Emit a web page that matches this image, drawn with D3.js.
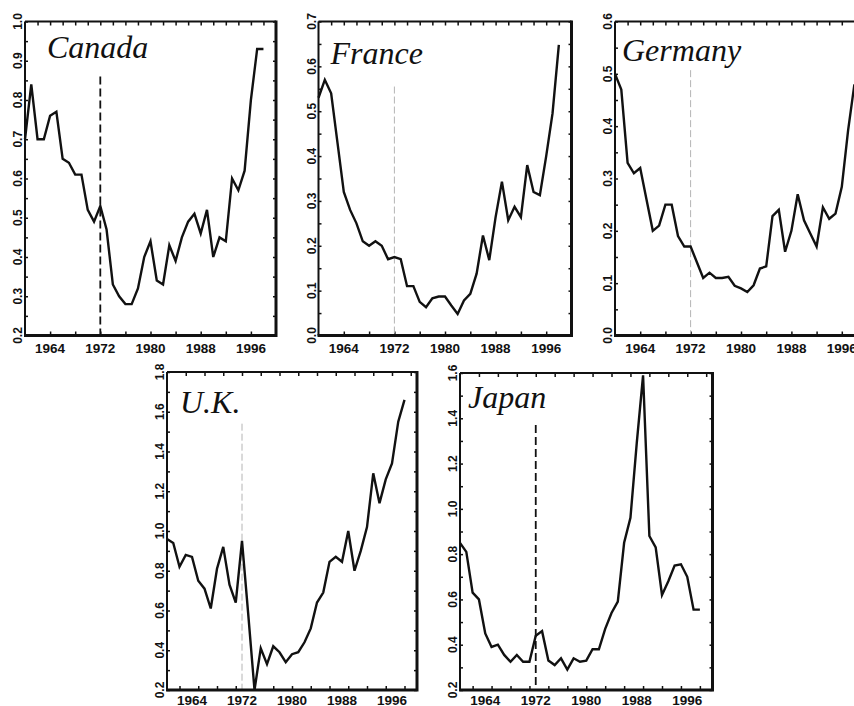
<!DOCTYPE html>
<html>
  <head>
    <meta charset="utf-8">
    <script src="https://d3js.org/d3.v7.min.js"></script>
    <title>Five countries</title>
    <style type="text/css">
body {
  margin: 0;
  background-color: #fff;
}
svg {
  display: block;
}
.title {
  font: italic 32px 'Liberation Serif', 'DejaVu Serif', serif;
  fill: #111;
}
.ylab, .xlab {
  font: bold 12px 'Liberation Sans', Arial, sans-serif;
  fill: #111;
}
.xlab {
  font-size: 13.5px;
}
.tick line {
  stroke: #111;
  stroke-width: 1.5px;
}
path.series {
  fill: none;
  stroke: #111;
  stroke-width: 2.4px;
  stroke-linejoin: miter;
}
    </style>
  </head>
  <body>
<svg></svg>

<script type="text/javascript">
// values, 1960..1998
const years = [1960, 1961, 1962, 1963, 1964, 1965, 1966, 1967, 1968, 1969,
  1970, 1971, 1972, 1973, 1974, 1975, 1976, 1977, 1978, 1979,
  1980, 1981, 1982, 1983, 1984, 1985, 1986, 1987, 1988, 1989,
  1990, 1991, 1992, 1993, 1994, 1995, 1996, 1997, 1998];

const canada = [0.70, 0.84, 0.70, 0.70, 0.76, 0.77, 0.65, 0.64, 0.61, 0.61,
  0.52, 0.49, 0.53, 0.47, 0.33, 0.30, 0.28, 0.28, 0.32, 0.40,
  0.44, 0.34, 0.33, 0.43, 0.39, 0.45, 0.49, 0.51, 0.46, 0.52,
  0.40, 0.45, 0.44, 0.60, 0.57, 0.62, 0.80, 0.93, 0.93];

const france = [0.53, 0.57, 0.54, 0.43, 0.32, 0.28, 0.25, 0.21, 0.20, 0.21,
  0.20, 0.17, 0.175, 0.17, 0.11, 0.11, 0.075, 0.063, 0.083, 0.087,
  0.087, 0.067, 0.048, 0.078, 0.093, 0.138, 0.223, 0.168, 0.264, 0.343,
  0.257, 0.287, 0.264, 0.38, 0.32, 0.313, 0.40, 0.495, 0.648];

const germany = [0.50, 0.47, 0.33, 0.31, 0.32, 0.26, 0.20, 0.21, 0.25, 0.25,
  0.19, 0.17, 0.17, 0.14, 0.11, 0.12, 0.11, 0.11, 0.112, 0.095,
  0.09, 0.083, 0.096, 0.128, 0.132, 0.228, 0.24, 0.16, 0.20, 0.27,
  0.22, 0.195, 0.17, 0.245, 0.223, 0.233, 0.284, 0.392, 0.48];

const uk = [0.96, 0.94, 0.82, 0.88, 0.87, 0.75, 0.71, 0.61, 0.81, 0.92,
  0.73, 0.64, 0.95, 0.58, 0.20, 0.41, 0.33, 0.42, 0.39, 0.34,
  0.38, 0.39, 0.44, 0.51, 0.64, 0.69, 0.845, 0.87, 0.845, 1.00,
  0.80, 0.90, 1.02, 1.29, 1.14, 1.26, 1.34, 1.55, 1.66];

const japan = [0.85, 0.81, 0.63, 0.60, 0.45, 0.39, 0.40, 0.355, 0.325, 0.355,
  0.325, 0.325, 0.44, 0.46, 0.33, 0.31, 0.34, 0.29, 0.34, 0.325,
  0.33, 0.38, 0.38, 0.47, 0.54, 0.59, 0.85, 0.96, 1.29, 1.59,
  0.88, 0.83, 0.62, 0.68, 0.75, 0.755, 0.70, 0.555, 0.555];

const countries = ["Canada", "France", "Germany", "U.K.", "Japan"];
const series = [canada, france, germany, uk, japan];
const yDomains = [[0.2, 1.0], [0.0, 0.7], [0.0, 0.6], [0.2, 1.8], [0.2, 1.6]];
const yStep = [0.1, 0.1, 0.1, 0.2, 0.2];
const breakYear = 1972;
const breakTop = [0.86, 0.555, 0.507, 1.54, 1.37];   // where the 1972 marker starts
const yearLabels = [1964, 1972, 1980, 1988, 1996];

// layout: frame boxes, title offsets, year label offset
const boxes = [
  {x: 25, y: 21.5, w: 251, h: 314, tx: 22, ty: 36, lab: 17, dark: true, tick: [2, 4]},
  {x: 318.5, y: 21.5, w: 253, h: 314, tx: 12, ty: 42, lab: 17, dark: false, tick: [2, 4]},
  {x: 615, y: 21.5, w: 252, h: 314, tx: 7, ty: 39, lab: 17, dark: false, tick: [2, 4]},
  {x: 167, y: 372, w: 250, h: 318, tx: 13, ty: 41, lab: 14.5, dark: false, tick: [3, 3]},
  {x: 460, y: 373, w: 252.5, h: 317, tx: 8, ty: 35, lab: 14.5, dark: true, tick: [3, 3]}
];

const svg = d3.select("svg").attr("width", 854).attr("height", 706);

countries.forEach((name, i) => {
  const b = boxes[i];
  const g = svg.append("g").attr("transform", "translate(" + b.x + "," + b.y + ")");

  const x = d3.scaleLinear().domain([1960, 2000]).range([0, b.w]);
  const y = d3.scaleLinear().domain(yDomains[i]).range([b.h, 0]);

  // minor ticks, all pointing inward
  const topTicks = d3.range(1960 + b.tick[0], 2000, b.tick[0]);
  const botStart = b.tick[1] == 4 ? 1964 : 1962;
  const botTicks = d3.range(botStart, 2000, b.tick[1]);
  const [y0, y1] = yDomains[i];
  const half = yStep[i] / 2;
  const yTicks = d3.range(Math.round((y1 - y0) / half) + 1).map(k => y0 + k * half);

  g.append("g").attr("transform", "translate(0," + b.h + ")")
    .call(d3.axisBottom(x).tickValues(botTicks).tickSize(-4).tickFormat(""))
    .call(a => a.select(".domain").remove());
  g.append("g")
    .call(d3.axisTop(x).tickValues(topTicks).tickSize(-4).tickFormat(""))
    .call(a => a.select(".domain").remove());
  g.append("g")
    .call(d3.axisLeft(y).tickValues(yTicks).tickSize(-3).tickFormat(""))
    .call(a => a.select(".domain").remove());
  g.append("g").attr("transform", "translate(" + b.w + ",0)")
    .call(d3.axisRight(y).tickValues(yTicks).tickSize(-3).tickFormat(""))
    .call(a => a.select(".domain").remove());

  // 1972 marker
  g.append("line")
    .attr("x1", x(breakYear)).attr("x2", x(breakYear))
    .attr("y1", y(breakTop[i])).attr("y2", b.h)
    .attr("stroke", b.dark ? "#111" : "#b4b4b4")
    .attr("stroke-width", b.dark ? 1.8 : 1)
    .attr("stroke-dasharray", b.dark ? "8,4" : "7,3");

  const line = d3.line()
    .x((d, k) => x(years[k]))
    .y(d => y(d));
  g.append("path")
    .attr("class", "series")
    .attr("d", line(series[i]));

  // frame
  g.append("path")
    .attr("d", "M0,0H" + b.w)
    .attr("stroke", "#111").attr("stroke-width", 2);
  g.append("path")
    .attr("d", "M0,0V" + b.h)
    .attr("stroke", "#111").attr("stroke-width", 2);
  g.append("path")
    .attr("d", "M" + b.w + ",-1V" + (b.h + 1.5) + "M-1," + b.h + "H" + (b.w + 1.5))
    .attr("stroke", "#111").attr("stroke-width", 3);

  // y labels, rotated
  const fmt = d3.format(".1f");
  g.selectAll(".ylab")
    .data(d3.range(Math.round((y1 - y0) / yStep[i]) + 1).map(k => y0 + k * yStep[i]))
    .enter().append("text")
      .attr("class", "ylab")
      .attr("text-anchor", "middle")
      .attr("transform", d => "translate(-3," + y(d) + ") rotate(-90)")
      .text(d => fmt(d));

  g.selectAll(".xlab")
    .data(yearLabels)
    .enter().append("text")
      .attr("class", "xlab")
      .attr("text-anchor", "middle")
      .attr("x", d => x(d))
      .attr("y", b.h + b.lab)
      .text(d => d);

  g.append("text")
    .attr("class", "title")
    .attr("x", b.tx)
    .attr("y", b.ty)
    .text(name);
});
</script>
  </body>
</html>
